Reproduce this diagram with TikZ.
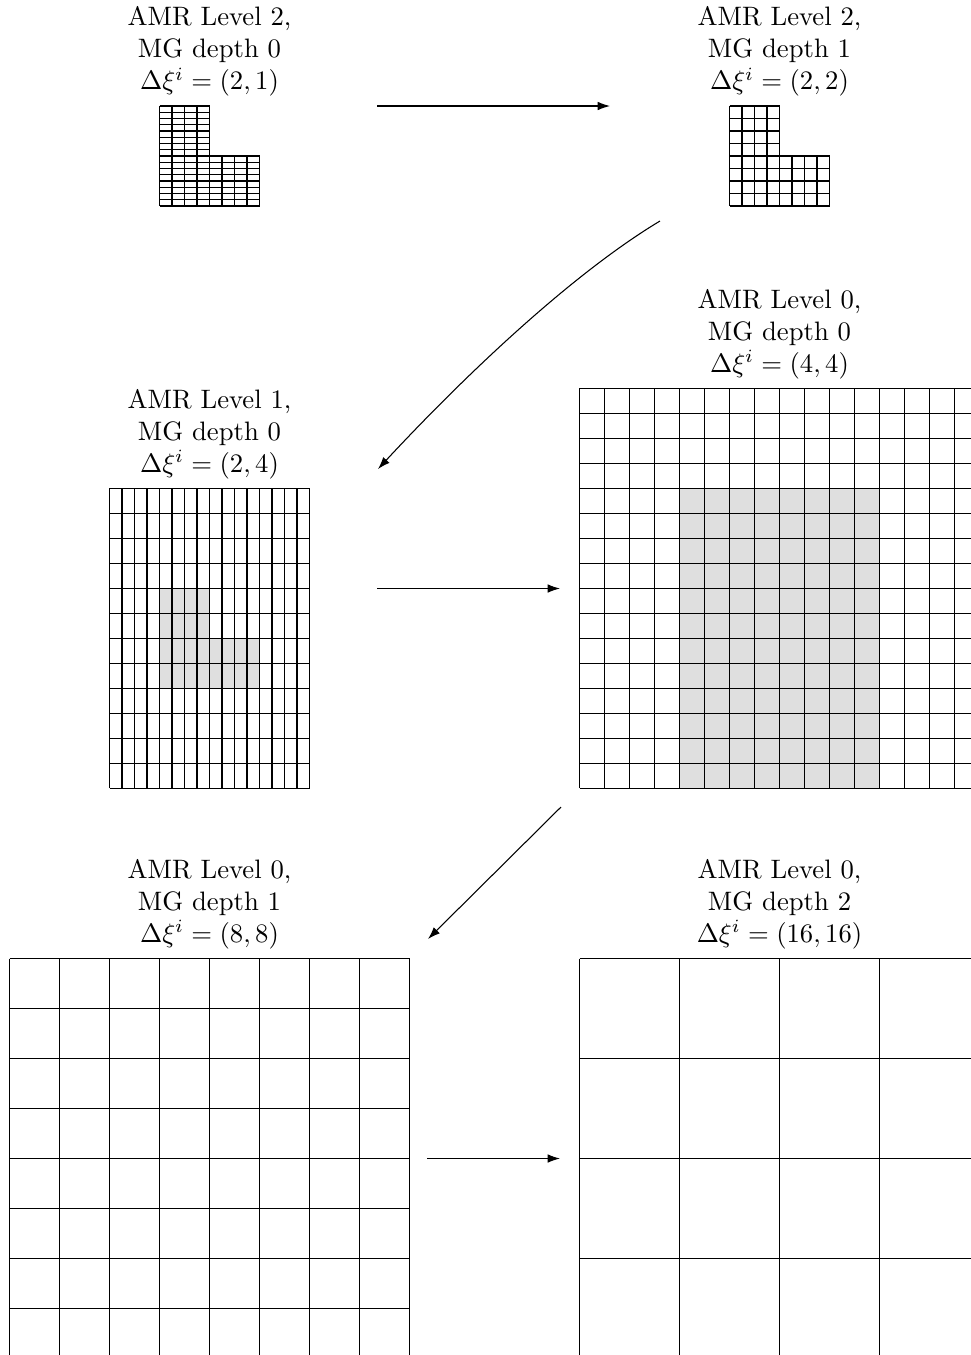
\documentclass[tikz,border=0pt]{standalone}
\usetikzlibrary{arrows.meta}
\begin{document}
\begin{tikzpicture}[x=0.375pt,y=-0.375pt,line width=0.4pt,
  lbl/.style={anchor=south,align=center,inner sep=3.33pt},
  conn/.style={-{Latex[length=4.6pt,width=3.2pt]}}]
\clip (0,0) rectangle (971,1355);

% ---------- AMR Level 2, MG depth 0 ----------
\begin{scope}[shift={(159.5,106)}]
  \foreach \k in {0,...,4} \draw (\k*12.5,0) -- (\k*12.5,100);
  \foreach \k in {5,...,8} \draw (\k*12.5,50) -- (\k*12.5,100);
  \foreach \k in {0,...,7} \draw (0,\k*6.25) -- (50,\k*6.25);
  \foreach \k in {8,...,16} \draw (0,\k*6.25) -- (100,\k*6.25);
\end{scope}
\node[lbl] (l2d0) at (209.5,106) {AMR Level 2,\\ MG depth 0\\ $\Delta\xi^i = (2,1)$};

% ---------- AMR Level 2, MG depth 1 ----------
\begin{scope}[shift={(729.5,106)}]
  \foreach \k in {0,...,4} \draw (\k*12.5,0) -- (\k*12.5,100);
  \foreach \k in {5,...,8} \draw (\k*12.5,50) -- (\k*12.5,100);
  \foreach \k in {0,...,3} \draw (0,\k*12.5) -- (50,\k*12.5);
  \foreach \k in {4,...,8} \draw (0,\k*12.5) -- (100,\k*12.5);
\end{scope}
\node[lbl] (l2d1) at (779.5,106) {AMR Level 2,\\ MG depth 1\\ $\Delta\xi^i = (2,2)$};

% ---------- AMR Level 1, MG depth 0 ----------
\begin{scope}[shift={(109.5,488.3)}]
  \fill[gray!25] (50,100) -- (100,100) -- (100,150) -- (150,150) -- (150,200) -- (50,200) -- cycle;
  \foreach \k in {0,...,16} \draw (\k*12.5,0) -- (\k*12.5,300);
  \foreach \k in {0,...,12} \draw (0,\k*25) -- (200,\k*25);
\end{scope}
\node[lbl] (l1d0) at (209.5,488.3) {AMR Level 1,\\ MG depth 0\\ $\Delta\xi^i = (2,4)$};

% ---------- AMR Level 0, MG depth 0 ----------
\begin{scope}[shift={(579.5,388.3)}]
  \fill[gray!25] (100,100) rectangle (300,400);
  \foreach \k in {0,...,16} \draw (\k*25,0) -- (\k*25,400);
  \foreach \k in {0,...,16} \draw (0,\k*25) -- (400,\k*25);
\end{scope}
\node[lbl] (l0d0) at (779.5,388.3) {AMR Level 0,\\ MG depth 0\\ $\Delta\xi^i = (4,4)$};

% ---------- AMR Level 0, MG depth 1 ----------
\begin{scope}[shift={(9.5,958.5)}]
  \foreach \k in {0,...,8} \draw (\k*50,0) -- (\k*50,400);
  \foreach \k in {0,...,8} \draw (0,\k*50) -- (400,\k*50);
\end{scope}
\node[lbl] (l0d1) at (209.5,958.5) {AMR Level 0,\\ MG depth 1\\ $\Delta\xi^i = (8,8)$};

% ---------- AMR Level 0, MG depth 2 ----------
\begin{scope}[shift={(579.5,958.5)}]
  \foreach \k in {0,...,4} \draw (\k*100,0) -- (\k*100,400);
  \foreach \k in {0,...,4} \draw (0,\k*100) -- (400,\k*100);
\end{scope}
\node[lbl] (l0d2) at (779.5,958.5) {AMR Level 0,\\ MG depth 2\\ $\Delta\xi^i = (16,16)$};

% ---------- connectors ----------
\coordinate (a1s) at (377,106);
\coordinate (a1e) at (610,106);
\coordinate (a2s) at (660,221);
\coordinate (a2e) at (378,469);
\coordinate (a3s) at (377,588.5);
\coordinate (a3e) at (560,588.5);
\coordinate (a4s) at (561,807);
\coordinate (a4e) at (428,939);
\coordinate (a5s) at (427,1158.5);
\coordinate (a5e) at (560,1158.5);

\draw[conn] (a1s) -- (a1e);
\draw[conn] (a2s) .. controls (575,272) and (470,370) .. (a2e);
\draw[conn] (a3s) -- (a3e);
\draw[conn] (a4s) -- (a4e);
\draw[conn] (a5s) -- (a5e);
\end{tikzpicture}
\end{document}
